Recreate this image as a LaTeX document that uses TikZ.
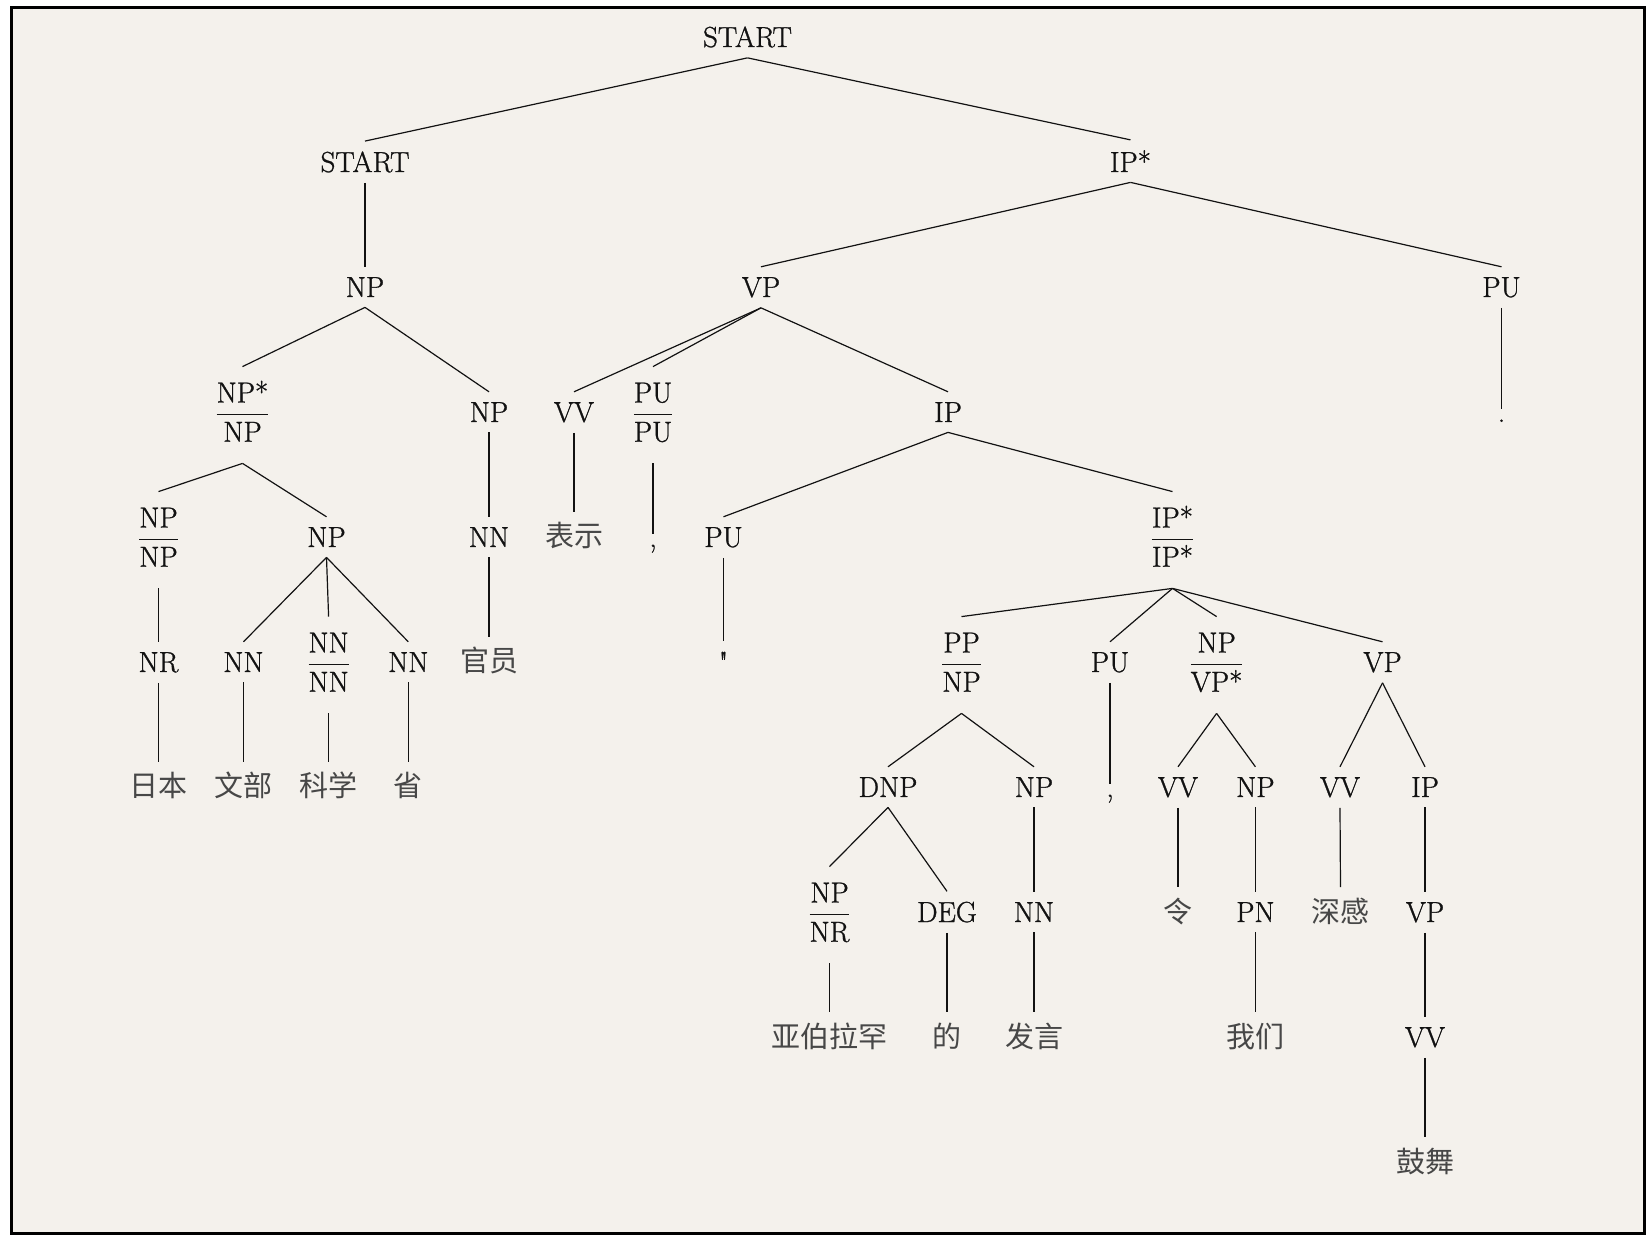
\documentclass[tikz,border=0pt]{standalone}
\usepackage{fontspec}
\setmainfont{Latin Modern Roman}[FakeBold=1.0]
\newfontfamily\cjk[Scale=1.0]{Noto Sans CJK SC}
\definecolor{paper}{RGB}{244,241,236}
\definecolor{ink}{RGB}{18,18,18}
\newcommand\fr[2]{$\displaystyle\frac{\hbox{#1}}{\hbox{#2}}$}
\begin{document}
\begin{tikzpicture}[x=0.5pt,y=-0.5pt,
  lab/.style={anchor=base, inner xsep=1pt, inner ysep=5pt, text=ink,
    font=\fontsize{14.5}{17}\selectfont},
  frac/.style={lab, text height=22.5pt, text depth=15.5pt},
  zh/.style={lab, font=\fontsize{14.5}{17}\selectfont\cjk, text=black!72},
  edge/.style={draw=ink, line width=0.6pt}]
\fill[white] (0,0) rectangle (1646,1235);
\useasboundingbox (0,0) rectangle (1646,1235);
\filldraw[fill=paper, draw=black, line width=1.5pt] (11,8) rectangle (1644.5,1233.5);

% row 0
\node[lab] (s0) at (747.5,47) {START};
% row 1
\node[lab] (s1) at (365,172) {START};
\node[lab] (ip1) at (1130.5,172) {IP*};
% row 2
\node[lab] (np2) at (365,297) {NP};
\node[lab] (vp2) at (761,297) {VP};
\node[lab] (pu2) at (1501.5,297) {PU};
% row 3
\node[frac] (nps) at (242.5,422) {\fr{NP*}{NP}};
\node[lab] (np3) at (489,422) {NP};
\node[lab] (vv3) at (574,422) {VV};
\node[frac] (pupu) at (653,422) {\fr{PU}{PU}};
\node[lab] (ip3) at (948,422) {IP};
\node[lab] (dot) at (1501.5,422) {.};
% row 4
\node[frac] (npnp) at (158.5,547) {\fr{NP}{NP}};
\node[lab] (np4) at (326.5,547) {NP};
\node[lab] (nn4) at (489,547) {NN};
\node[zh] (biaoshi) at (574,547) {表示};
\node[lab] (comma1) at (653,547) {,};
\node[lab] (pu4) at (723.5,547) {PU};
\node[frac] (ipip) at (1172.5,547) {\fr{IP*}{IP*}};
% row 5
\node[lab] (nr) at (158.5,672) {NR};
\node[lab] (nn5a) at (243.5,672) {NN};
\node[frac] (nnnn) at (328.6,672) {\fr{NN}{NN}};
\node[lab] (nn5b) at (408.3,672) {NN};
\node[zh] (guanyuan) at (489,672) {官员};
\node[lab] (quote) at (723.5,672) {\addfontfeatures{Ligatures=TeXOff}"};
\node[frac] (ppnp) at (961.5,672) {\fr{PP}{NP}};
\node[lab] (pu5) at (1110,672) {PU};
\node[frac] (npvp) at (1216.6,672) {\fr{NP}{VP*}};
\node[lab] (vp5) at (1382.5,672) {VP};
% row 6
\node[zh] (riben) at (158.5,797) {日本};
\node[zh] (wenbu) at (243.5,797) {文部};
\node[zh] (kexue) at (328.6,797) {科学};
\node[zh] (sheng) at (408.3,797) {省};
\node[lab] (dnp) at (888,797) {DNP};
\node[lab] (np6) at (1034,797) {NP};
\node[lab] (comma2) at (1110,797) {,};
\node[lab] (vv6) at (1178,797) {VV};
\node[lab] (np6b) at (1255.4,797) {NP};
\node[lab] (vv6b) at (1340,797) {VV};
\node[lab] (ip6) at (1425,797) {IP};
% row 7
\node[frac] (npnr) at (829.5,922) {\fr{NP}{NR}};
\node[lab] (deg) at (947,922) {DEG};
\node[lab] (nn7) at (1034,922) {NN};
\node[zh] (ling) at (1178,922) {令};
\node[lab] (pn) at (1255.4,922) {PN};
\node[zh] (shengan) at (1340.5,922) {深感};
\node[lab] (vp7) at (1425,922) {VP};
% row 8
\node[zh] (yabolahan) at (829.5,1047) {亚伯拉罕};
\node[zh] (de) at (947,1047) {的};
\node[zh] (fayan) at (1034,1047) {发言};
\node[zh] (women) at (1255.4,1047) {我们};
\node[lab] (vv8) at (1425,1047) {VV};
% row 9
\node[zh] (gushu) at (1425,1172) {鼓舞};

\foreach \a/\b in {s0/s1, s0/ip1, s1/np2, np2/nps, np2/np3, nps/npnp, nps/np4,
  npnp/nr, nr/riben, np4/nn5a, np4/nnnn, np4/nn5b, nn5a/wenbu, nnnn/kexue,
  nn5b/sheng, np3/nn4, nn4/guanyuan, ip1/vp2, ip1/pu2, pu2/dot, vp2/vv3,
  vp2/pupu, vp2/ip3, vv3/biaoshi, pupu/comma1, ip3/pu4, ip3/ipip, pu4/quote,
  ipip/ppnp, ipip/pu5, ipip/npvp, ipip/vp5, ppnp/dnp, ppnp/np6, dnp/npnr,
  dnp/deg, npnr/yabolahan, deg/de, np6/nn7, nn7/fayan, pu5/comma2, npvp/vv6,
  npvp/np6b, vv6/ling, np6b/pn, pn/women, vp5/vv6b, vp5/ip6, vv6b/shengan,
  ip6/vp7, vp7/vv8, vv8/gushu}
  \draw[edge] (\a.south) -- (\b.north);
\end{tikzpicture}
\end{document}
